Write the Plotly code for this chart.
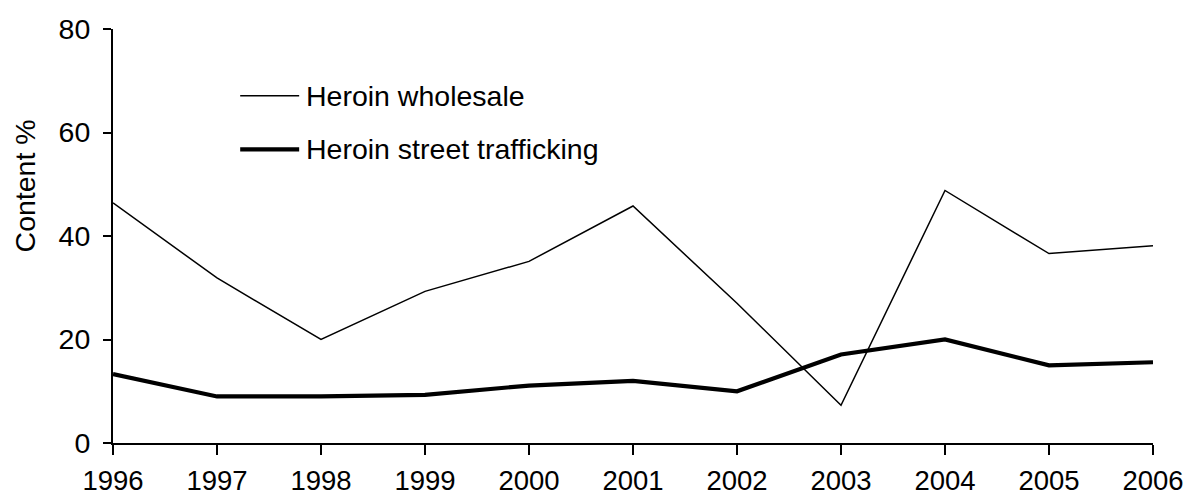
import plotly.graph_objects as go

years = [1996, 1997, 1998, 1999, 2000, 2001, 2002, 2003, 2004, 2005, 2006]
wholesale = [46.4, 31.9, 20.0, 29.3, 35.1, 45.8, 27.0, 7.3, 48.8, 36.6, 38.1]
street = [13.3, 9.0, 9.0, 9.3, 11.1, 12.0, 10.0, 17.1, 20.0, 15.0, 15.6]
series_names = ["Heroin wholesale", "Heroin street trafficking"]
y_ticks = [0, 20, 40, 60, 80]

FONT = "Liberation Sans, Arial, sans-serif"
FS = 28.5

fig = go.Figure()
fig.add_trace(go.Scatter(x=years, y=wholesale, mode="lines", name=series_names[0],
                         line=dict(color="black", width=1.5)))
fig.add_trace(go.Scatter(x=years, y=street, mode="lines", name=series_names[1],
                         line=dict(color="black", width=4.2)))

# manual legend (line samples + labels)
leg_x0, leg_x1, leg_tx = 0.1223, 0.1790, 0.1839
leg_rows = [0.8388, 0.7092]
widths = [1.5, 4.2]
for name, yy, w in zip(series_names, leg_rows, widths):
    fig.add_shape(type="line", xref="paper", yref="paper", x0=leg_x0, x1=leg_x1,
                  y0=yy, y1=yy, line=dict(color="black", width=w))
    fig.add_annotation(xref="paper", yref="paper", x=leg_tx, y=yy, text=name,
                       showarrow=False, xanchor="left", yanchor="middle",
                       font=dict(family=FONT, size=FS, color="black"))

# y-axis title
fig.add_annotation(xref="paper", yref="paper", x=-0.0843, y=0.6205, text="Content %",
                   textangle=-90, showarrow=False, xanchor="center", yanchor="middle",
                   font=dict(family=FONT, size=FS, color="black"))

fig.update_layout(
    width=1188, height=496,
    margin=dict(l=112.7, r=34.7, t=29, b=53, autoexpand=False),
    paper_bgcolor="white", plot_bgcolor="white",
    showlegend=False,
    font=dict(family=FONT, size=FS, color="black"),
)
fig.update_xaxes(range=[1996, 2006], tickmode="array", tickvals=years,
                 ticktext=[str(y) for y in years], automargin=False,
                 showgrid=False, zeroline=False, showline=True, linecolor="black",
                 linewidth=2, ticks="outside", ticklen=10, tickwidth=2, tickcolor="black",
                 ticklabelstandoff=2, tickfont=dict(family=FONT, size=27.5, color="black"))
fig.update_yaxes(range=[0, 80], tickmode="array", tickvals=y_ticks, automargin=False,
                 showgrid=False, zeroline=False, showline=True, linecolor="black",
                 linewidth=2, ticks="outside", ticklen=8, tickwidth=2, tickcolor="black",
                 ticklabelstandoff=7, tickfont=dict(family=FONT, size=FS, color="black"))

# remove the default 8px page margin so the figure fills the window exactly
fig.write_html("out.html", config={"displayModeBar": False},
               post_script="document.body.style.margin='0';document.body.style.overflow='hidden';")
